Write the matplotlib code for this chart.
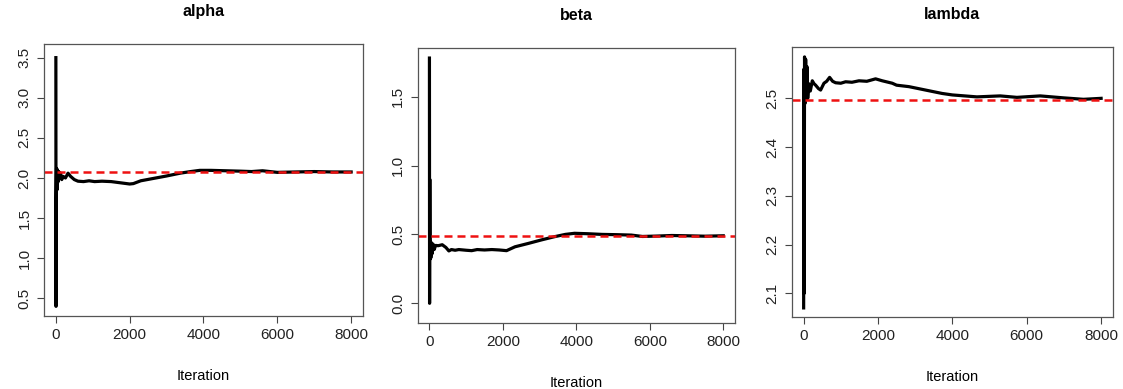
import matplotlib
matplotlib.use("Agg")
import matplotlib.pyplot as plt

# running-mean traces (iteration, value)
alpha_iter = [1, 5, 10, 20, 30, 45, 60, 80, 100, 130, 160, 200, 260, 330, 400,
              500, 600, 750, 900, 1050, 1250, 1500, 1750, 2000, 2100, 2300,
              2650, 3000, 3370, 3650, 3900, 4200, 4600, 5000, 5300, 5600,
              6000, 6500, 7000, 7500, 8000]
alpha_vals = [3.5, 0.4, 1.7, 2.12, 1.85, 2.1, 1.95, 2.08, 2.0, 2.06, 1.98, 2.02,
              2.0, 2.06, 2.02, 1.98, 1.96, 1.955, 1.965, 1.955, 1.96, 1.955,
              1.94, 1.925, 1.93, 1.965, 1.995, 2.025, 2.06, 2.08, 2.095, 2.095,
              2.09, 2.085, 2.08, 2.09, 2.07, 2.075, 2.08, 2.075, 2.075]

beta_iter = [1, 5, 10, 15, 25, 40, 55, 75, 100, 130, 170, 240, 350, 450, 530,
             600, 700, 800, 1000, 1150, 1300, 1500, 1700, 1900, 2100, 2330,
             2700, 3050, 3400, 3700, 3950, 4300, 4700, 5100, 5500, 5800, 6200,
             6600, 7000, 7500, 8000]
beta_vals = [1.78, 0.0, 0.9, 0.32, 0.45, 0.33, 0.44, 0.36, 0.43, 0.39, 0.42,
             0.418, 0.425, 0.405, 0.38, 0.39, 0.385, 0.39, 0.385, 0.382, 0.39,
             0.387, 0.39, 0.387, 0.382, 0.41, 0.435, 0.46, 0.483, 0.50, 0.508,
             0.505, 0.5, 0.498, 0.495, 0.485, 0.488, 0.492, 0.49, 0.487, 0.49]

lambda_iter = [1, 8, 15, 25, 40, 55, 70, 90, 110, 140, 180, 234, 280, 323, 400,
               457, 547, 620, 699, 780, 860, 1000, 1129, 1300, 1489, 1700, 1935,
               2115, 2384, 2500, 2832, 3279, 3727, 4000, 4660, 5286, 5735, 6362,
               6988, 7525, 8000]
lambda_vals = [2.07, 2.56, 2.10, 2.585, 2.49, 2.58, 2.50, 2.565, 2.50, 2.53,
               2.515, 2.536, 2.53, 2.527, 2.52, 2.517, 2.531, 2.535, 2.543, 2.535,
               2.532, 2.531, 2.534, 2.533, 2.536, 2.535, 2.54, 2.536, 2.531,
               2.527, 2.524, 2.517, 2.51, 2.507, 2.503, 2.505, 2.502, 2.505,
               2.501, 2.498, 2.5]

titles = ["alpha", "beta", "lambda"]
true_vals = [2.075, 0.49, 2.497]
yticks = [[0.5, 1.0, 1.5, 2.0, 2.5, 3.0, 3.5],
          [0.0, 0.5, 1.0, 1.5],
          [2.1, 2.2, 2.3, 2.4, 2.5]]
ylims = [(0.28, 3.67), (-0.143, 1.853), (2.052, 2.606)]
xticks = [0, 2000, 4000, 6000, 8000]

plt.rcParams['font.family'] = ['Liberation Sans', 'DejaVu Sans']

fig = plt.figure(figsize=(11.23, 3.89), dpi=100)
boxes = [(0.0392, 0.1877, 0.2840, 0.6992),
         (0.3719, 0.1697, 0.2826, 0.7069),
         (0.7050, 0.1859, 0.2861, 0.6941)]

traces = [(alpha_iter, alpha_vals), (beta_iter, beta_vals), (lambda_iter, lambda_vals)]

for i, (xs, ys) in enumerate(traces):
    ax = fig.add_axes(boxes[i])
    ax.plot(xs, ys, color='black', lw=2.3, solid_joinstyle='round')
    ax.axhline(true_vals[i], color='#ee1111', lw=1.8, ls=(0, (3.2, 2.0)))
    ax.set_xlim(-320, 8320)
    ax.set_ylim(*ylims[i])
    ax.set_xticks(xticks)
    ax.set_yticks(yticks[i])
    ax.set_yticklabels([f"{v:.1f}" for v in yticks[i]], rotation=90, va='center')
    ax.tick_params(direction='out', length=5, width=0.8, color='#444444',
                   labelsize=11, labelcolor='#222222', pad=4)
    for s in ax.spines.values():
        s.set_color('#555555')
        s.set_linewidth(0.9)
    ax.set_title(titles[i], fontsize=11.5, fontweight='bold', pad=20)
    ax.set_xlabel("Iteration", fontsize=10.5, labelpad=19)

fig.savefig("out.png", dpi=100)
